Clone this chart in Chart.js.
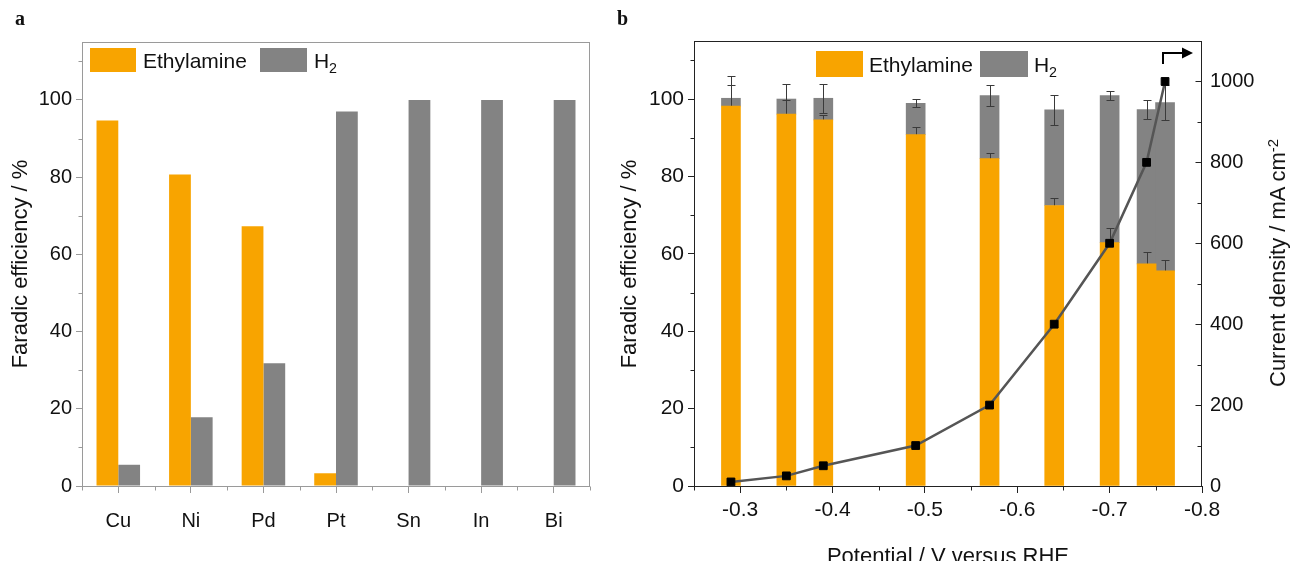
<!DOCTYPE html>
<html>
<head>
<meta charset="utf-8">
<script src="https://cdn.jsdelivr.net/npm/chart.js@4.4.1/dist/chart.umd.min.js"></script>
<style>
  body { margin: 0; background: #fff; }
  #wrap { position: relative; width: 1291px; height: 561px; overflow: hidden;
          font-family: 'Liberation Sans', Arial, sans-serif; color: #111; }
  canvas { position: absolute; top: 0; }
  .lbl { position: absolute; white-space: nowrap; line-height: 1; }
  .ytitle { font-size: 22px; transform: translate(-50%, -50%) rotate(-90deg); }
  .xtitle { font-size: 22px; transform: translateX(-50%); }
  .panel { font-family: 'Liberation Serif', 'Times New Roman', serif; font-weight: bold; font-size: 20px; }
  .legend { position: absolute; display: flex; align-items: center; font-size: 21px; line-height: 1; white-space: nowrap; }
  .legend .box { display: inline-block; }
  sub { font-size: 0.68em; vertical-align: -0.32em; line-height: 0; }
  sup { font-size: 0.68em; vertical-align: 0.45em; line-height: 0; }
</style>
</head>
<body>
<div id="wrap">
  <canvas id="chartA" width="600" height="561" style="left:0"></canvas>
  <canvas id="chartB" width="691" height="561" style="left:600px"></canvas>

  <div class="lbl panel" style="left:15px; top:8px">a</div>
  <div class="lbl panel" style="left:617px; top:8px">b</div>

  <div class="lbl ytitle" style="left:20px; top:264px">Faradic efficiency / %</div>
  <div class="lbl ytitle" style="left:629px; top:264px">Faradic efficiency / %</div>
  <div class="lbl ytitle" style="left:1278px; top:263px">Current density / mA cm<sup>-2</sup></div>
  <div class="lbl xtitle" style="left:948px; top:545px">Potential / V versus RHE</div>

  <div class="legend" id="legendA" style="left:90px; top:48px"></div>
  <div class="legend" id="legendB" style="left:816px; top:51px"></div>
</div>

<script>
// ================= DATA =================

// panel a : faradaic efficiency on different metals
const metals = ['Cu', 'Ni', 'Pd', 'Pt', 'Sn', 'In', 'Bi'];
const metalEthylamine = [94.7, 80.7, 67.3, 3.3, 0, 0, 0];
const metalH2 = [5.5, 17.8, 31.8, 97.0, 100, 100, 100];

// panel b : Cu at different potentials
const potential = [-0.29, -0.35, -0.39, -0.49, -0.57, -0.64, -0.70, -0.74, -0.76];
const feEthylamine = [98.2, 96.1, 94.6, 90.8, 84.6, 72.5, 62.9, 57.4, 55.6];
const feH2 = [2.0, 3.9, 5.6, 8.1, 16.3, 24.7, 38.0, 39.9, 43.5];
const errEthylamine = [5.4, 3.7, 1.3, 2.1, 1.4, 1.9, 3.8, 3.1, 2.9];
const errTotal = [5.8, 3.8, 3.7, 1.0, 2.7, 3.9, 1.2, 2.5, 4.6];
const currentDensity = [10, 25, 50, 100, 200, 400, 600, 800, 1000];

// ticks
const feTicks = [0, 20, 40, 60, 80, 100];
const feMinorTicks = [10, 30, 50, 70, 90, 110];
const potentialTicks = [-0.3, -0.4, -0.5, -0.6, -0.7, -0.8];
const potentialMinorTicks = [-0.25, -0.35, -0.45, -0.55, -0.65, -0.75];
const currentTicks = [0, 200, 400, 600, 800, 1000];
const currentMinorTicks = [100, 300, 500, 700, 900];

const seriesNames = ['Ethylamine', 'H2'];
const seriesColors = ['#f8a400', '#838383'];

Chart.defaults.font.family = "'Liberation Sans', Arial, sans-serif";
Chart.defaults.font.size = 20;
Chart.defaults.color = '#111';

// ---------- helpers ----------

// short tick marks drawn from a scale, edge = pixel of the axis line, len signed
function minorTicks(ctx, scale, values, edge, len) {
    ctx.beginPath();
    values.forEach(v => {
        const p = Math.round(scale.getPixelForValue(v)) + 0.5;
        if (scale.isHorizontal()) {
            ctx.moveTo(p, edge);
            ctx.lineTo(p, edge + len);
        } else {
            ctx.moveTo(edge, p);
            ctx.lineTo(edge + len, p);
        }
    });
    ctx.stroke();
}

function frame(ctx, area, color) {
    ctx.strokeStyle = color;
    ctx.lineWidth = 1;
    ctx.strokeRect(Math.round(area.left) + 0.5, Math.round(area.top) + 0.5,
        Math.round(area.right - area.left) - 1, Math.round(area.bottom - area.top));
}

// legend in html so H2 can have a subscript
function buildLegend(id, chart, boxW, boxH, gapText, gapItem) {
    const el = document.getElementById(id);
    chart.data.datasets.filter(d => d.type !== 'line').forEach((d, i) => {
        const box = document.createElement('span');
        box.className = 'box';
        box.style.width = boxW[i] + 'px';
        box.style.height = boxH + 'px';
        box.style.background = d.backgroundColor;
        box.style.marginRight = gapText + 'px';
        const txt = document.createElement('span');
        txt.innerHTML = d.label.replace(/(\d+)$/, '<sub>$1</sub>');
        txt.style.marginRight = gapItem + 'px';
        el.appendChild(box);
        el.appendChild(txt);
    });
}

// ================= PANEL A =================

const plugA = {
    id: 'plugA',
    afterDraw(chart) {
        const ctx = chart.ctx;
        const a = chart.chartArea;
        const x = chart.scales.x;
        const y = chart.scales.y;
        ctx.save();
        frame(ctx, a, '#9a9a9a');
        ctx.strokeStyle = '#9a9a9a';
        minorTicks(ctx, y, feMinorTicks, Math.round(a.left) + 0.5, -4);
        const bounds = [];
        for (let i = 0; i <= metals.length; i++) bounds.push(i - 0.5);
        minorTicks(ctx, x, bounds, Math.round(a.bottom) + 0.5, 4);
        ctx.restore();
    }
};

const chartA = new Chart(document.getElementById('chartA'), {
    type: 'bar',
    data: {
        labels: metals,
        datasets: [
            { label: seriesNames[0], data: metalEthylamine, backgroundColor: seriesColors[0],
              categoryPercentage: 0.6, barPercentage: 1.0 },
            { label: seriesNames[1], data: metalH2, backgroundColor: seriesColors[1],
              categoryPercentage: 0.6, barPercentage: 1.0 }
        ]
    },
    options: {
        responsive: false,
        animation: false,
        layout: { padding: { left: 0, right: 10, top: 42, bottom: 0 } },
        plugins: { legend: { display: false }, tooltip: { enabled: false } },
        scales: {
            x: {
                grid: { offset: false, drawOnChartArea: false, tickLength: 7, color: '#9a9a9a' },
                border: { display: false },
                ticks: { padding: 16, font: { size: 20 } },
                afterFit: s => { s.height = 75; }
            },
            y: {
                min: 0,
                max: 115,
                grid: { drawOnChartArea: false, tickLength: 6, color: '#9a9a9a' },
                border: { display: false },
                ticks: { padding: 4, font: { size: 20 } },
                afterBuildTicks: s => { s.ticks = feTicks.map(v => ({ value: v })); },
                afterFit: s => { s.width = 82; }
            }
        }
    },
    plugins: [plugA]
});

buildLegend('legendA', chartA, [46, 47], 24, 7, 13);

// ================= PANEL B =================

const plugB = {
    id: 'plugB',
    // error bars after the H2 bars, below the current line
    afterDatasetDraw(chart, args) {
        if (args.index !== 1) return;
        const ctx = chart.ctx;
        const x = chart.scales.x;
        const y = chart.scales.y;
        ctx.save();
        ctx.strokeStyle = '#3a3a3a';
        ctx.lineWidth = 1;
        const bar = (px, v, e) => {
            const t = Math.round(y.getPixelForValue(v + e)) + 0.5;
            const b = Math.round(y.getPixelForValue(v - e)) + 0.5;
            ctx.beginPath();
            ctx.moveTo(px, t); ctx.lineTo(px, b);
            ctx.moveTo(px - 4, t); ctx.lineTo(px + 4, t);
            ctx.moveTo(px - 4, b); ctx.lineTo(px + 4, b);
            ctx.stroke();
        };
        potential.forEach((p, i) => {
            const px = Math.round(x.getPixelForValue(p)) + 0.5;
            bar(px, feEthylamine[i], errEthylamine[i]);
            bar(px, feEthylamine[i] + feH2[i], errTotal[i]);
        });
        ctx.restore();
    },
    afterDraw(chart) {
        const ctx = chart.ctx;
        const a = chart.chartArea;
        const x = chart.scales.x;
        const y = chart.scales.y;
        const y1 = chart.scales.y1;
        ctx.save();
        frame(ctx, a, '#222');
        ctx.strokeStyle = '#222';
        ctx.lineWidth = 1;
        minorTicks(ctx, y, feMinorTicks, Math.round(a.left) + 0.5, -4);
        minorTicks(ctx, x, potentialMinorTicks, Math.round(a.bottom) + 0.5, 4);
        // right axis ticks point inwards
        const r = Math.round(a.right) - 0.5;
        minorTicks(ctx, y1, currentTicks, r, -6);
        minorTicks(ctx, y1, currentMinorTicks, r, -4);

        // arrow: current belongs to the right axis
        const ax = Math.round(x.getPixelForValue(potential[potential.length - 1])) - 2;
        const ay = a.top + 12;
        ctx.strokeStyle = '#000';
        ctx.fillStyle = '#000';
        ctx.lineWidth = 2;
        ctx.beginPath();
        ctx.moveTo(ax, a.top + 23);
        ctx.lineTo(ax, ay);
        ctx.lineTo(a.right - 18, ay);
        ctx.stroke();
        ctx.beginPath();
        ctx.moveTo(a.right - 20, ay - 5.5);
        ctx.lineTo(a.right - 9, ay);
        ctx.lineTo(a.right - 20, ay + 5.5);
        ctx.closePath();
        ctx.fill();
        ctx.restore();
    }
};

const chartB = new Chart(document.getElementById('chartB'), {
    type: 'bar',
    data: {
        datasets: [
            { label: seriesNames[0], data: potential.map((p, i) => ({ x: p, y: feEthylamine[i] })),
              backgroundColor: seriesColors[0], stack: 'fe', order: 1, barThickness: 19 },
            { label: seriesNames[1], data: potential.map((p, i) => ({ x: p, y: feH2[i] })),
              backgroundColor: seriesColors[1], stack: 'fe', order: 1, barThickness: 19 },
            { type: 'line', label: 'Current density', yAxisID: 'y1', order: 0,
              data: potential.map((p, i) => ({ x: p, y: currentDensity[i] })),
              borderColor: '#555', borderWidth: 2.5, tension: 0,
              pointStyle: 'rect', pointRadius: 5.5, pointBorderWidth: 1,
              pointBackgroundColor: '#000', pointBorderColor: '#000' }
        ]
    },
    options: {
        responsive: false,
        animation: false,
        layout: { padding: { left: 0, right: 0, top: 41, bottom: 0 } },
        plugins: { legend: { display: false }, tooltip: { enabled: false } },
        scales: {
            x: {
                type: 'linear',
                min: -0.8,
                max: -0.25,
                reverse: true,
                offset: false,
                grid: { offset: false, drawOnChartArea: false, tickLength: 7, color: '#222' },
                border: { display: false },
                ticks: { padding: 5, font: { size: 21 }, callback: v => v.toFixed(1) },
                afterBuildTicks: s => { s.ticks = potentialTicks.map(v => ({ value: v })); },
                afterFit: s => { s.height = 75; }
            },
            y: {
                min: 0,
                max: 115,
                grid: { drawOnChartArea: false, tickLength: 6, color: '#222' },
                border: { display: false },
                ticks: { padding: 4, font: { size: 21 } },
                afterBuildTicks: s => { s.ticks = feTicks.map(v => ({ value: v })); },
                afterFit: s => { s.width = 94; }
            },
            y1: {
                position: 'right',
                min: 0,
                max: 1100,
                grid: { drawOnChartArea: false, drawTicks: false },
                border: { display: false },
                ticks: { padding: 8, font: { size: 20 }, callback: v => String(v) },
                afterBuildTicks: s => { s.ticks = currentTicks.map(v => ({ value: v })); },
                afterFit: s => { s.width = 89; }
            }
        }
    },
    plugins: [plugB]
});

buildLegend('legendB', chartB, [47, 48], 26, 6, 7);
</script>
</body>
</html>
